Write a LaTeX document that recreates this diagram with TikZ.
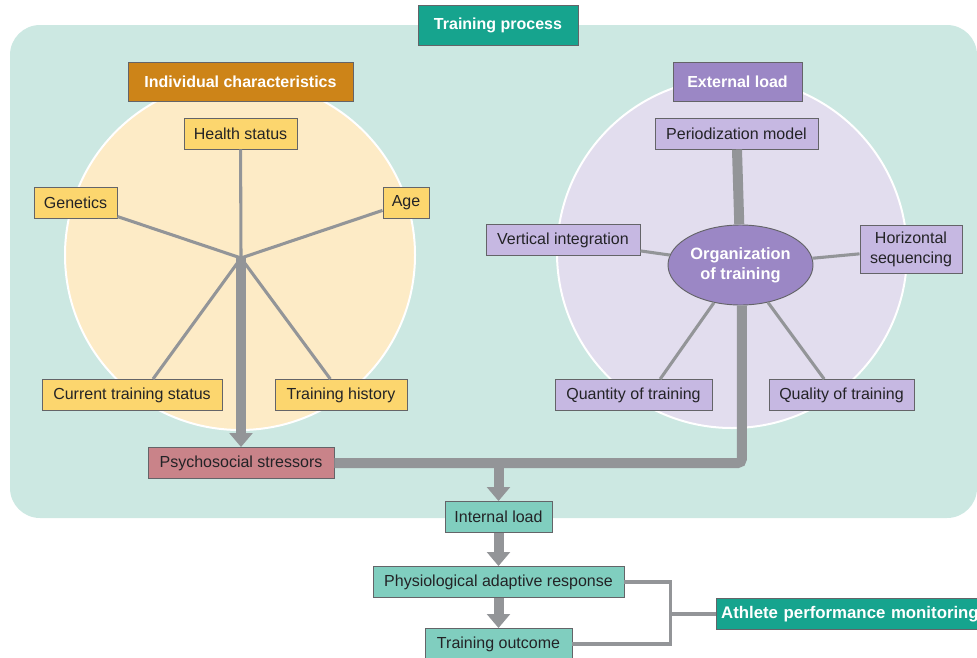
\documentclass[tikz,border=0pt]{standalone}
\usepackage{fontspec}
\setmainfont{Liberation Sans}
\usetikzlibrary{shapes.geometric, arrows.meta, positioning}

\definecolor{panel}{RGB}{204,232,226}
\definecolor{tealhead}{RGB}{22,164,142}
\definecolor{tealbox}{RGB}{128,206,191}
\definecolor{amberhead}{RGB}{205,132,24}
\definecolor{yellowbox}{RGB}{252,214,110}
\definecolor{yellowdisc}{RGB}{253,235,198}
\definecolor{violethead}{RGB}{155,135,197}
\definecolor{violetbox}{RGB}{198,184,226}
\definecolor{violetdisc}{RGB}{226,221,238}
\definecolor{rosebox}{RGB}{201,131,137}
\definecolor{linkgray}{RGB}{147,149,152}
\definecolor{edgegray}{RGB}{100,100,104}
\definecolor{textdark}{RGB}{35,35,38}

\begin{document}
\begin{tikzpicture}[x=0.75pt, y=-0.75pt, font=\fontsize{12}{15}\selectfont]
\tikzstyle{box} = [rectangle, draw=edgegray, line width=0.7pt, inner sep=0pt, minimum height=23.25pt, align=center, text=textdark]
\tikzstyle{ybox} = [box, fill=yellowbox]
\tikzstyle{vbox} = [box, fill=violetbox]
\tikzstyle{tbox} = [box, fill=tealbox]
\tikzstyle{head} = [box, text=white, font=\fontsize{12}{15}\selectfont\bfseries, minimum height=29.25pt]
\tikzstyle{spoke} = [draw=linkgray, line width=2.3pt]
\tikzstyle{trunk} = [draw=linkgray, line width=7.5pt]
\tikzstyle{flow} = [trunk, -{Triangle[width=17pt, length=10.5pt]}]

\useasboundingbox (0,0) rectangle (977,657);
\fill[panel, rounded corners=22.5pt] (10,25) rectangle (977,518);
\filldraw[fill=yellowdisc, draw=white, line width=1.5pt] (240,255) circle[radius=131.25pt];
\filldraw[fill=violetdisc, draw=white, line width=1.5pt] (732,253) circle[radius=131.25pt];

\node [head, fill=tealhead, minimum width=120pt, minimum height=30pt] (proc) at (498,25) {Training process};

\node [head, fill=amberhead, minimum width=168.75pt] (indiv) at (240.5,81.5) {Individual characteristics};
\node [ybox, minimum width=84.75pt] (health) at (240.5,133.5) {Health status};
\node [ybox, minimum width=62.25pt] (genet) at (75.5,202.5) {Genetics};
\node [ybox, minimum width=34.5pt] (age) at (406,202.5) {Age};
\node [ybox, minimum width=135pt] (cstat) at (132,395) {Current training status};
\node [ybox, minimum width=99pt] (thist) at (341,395) {Training history};
\node [box, fill=rosebox, minimum width=139.5pt] (psych) at (241,463) {Psychosocial stressors};
\coordinate (hub) at (241,258);

\node [head, fill=violethead, minimum width=96.75pt] (extl) at (737.5,81.5) {External load};
\node [vbox, minimum width=122.25pt] (period) at (736.5,133.5) {Periodization model};
\node [ellipse, draw=edgegray, line width=0.7pt, fill=violethead, text=white, font=\fontsize{12.3}{15}\selectfont\bfseries, align=center, inner sep=0pt, minimum width=108.75pt, minimum height=60pt] (org) at (740.5,265) {Organization\\of training};
\node [vbox, minimum width=115.5pt] (vint) at (563,240) {Vertical integration};
\node [vbox, minimum width=76.5pt, minimum height=36pt] (hseq) at (911,249) {Horizontal\\sequencing};
\node [vbox, minimum width=117.75pt] (quant) at (633.5,395) {Quantity of training};
\node [vbox, minimum width=108.75pt] (qual) at (841.5,395) {Quality of training};

\node [tbox, minimum width=80.25pt] (intl) at (498.5,517) {Internal load};
\node [tbox, minimum width=188.25pt] (resp) at (498.5,582) {Physiological adaptive response};
\node [tbox, minimum width=110.25pt] (outc) at (498.5,644) {Training outcome};
\node [head, fill=tealhead, minimum width=215pt, minimum height=23.25pt, anchor=west, text width=208pt, align=left, font=\fontsize{12.6}{15}\selectfont\bfseries] (monit) at (716,614) {Athlete performance monitoring};

\path [spoke] (hub) -- (health);
\path [spoke] (hub) -- (genet);
\path [spoke] (hub) -- (age);
\path [spoke] (hub) -- ([xshift=15.75pt]cstat.north);
\path [spoke] (hub) -- ([xshift=-8pt]thist.north);
\path [flow] (hub) -- (psych);

\path [trunk] (period) -- (org);
\path [spoke] (vint) -- (org);
\path [spoke] (org) -- (hseq);
\path [spoke] (org) -- ([xshift=20pt]quant.north);
\path [spoke] (org) -- ([xshift=-13pt]qual.north);
\path [trunk, rounded corners=3pt] ([xshift=1pt]org.south) |- (psych.east);
\path [flow] (psych.east -| intl.north) -- (intl);

\path [flow] (intl) -- (resp);
\path [flow] (resp) -- (outc);
\path [spoke] (resp.east) -- ++(46,0) |- (outc.east);
\path [spoke] (monit.west) -- ++(-46,0);
\end{tikzpicture}
\end{document}
